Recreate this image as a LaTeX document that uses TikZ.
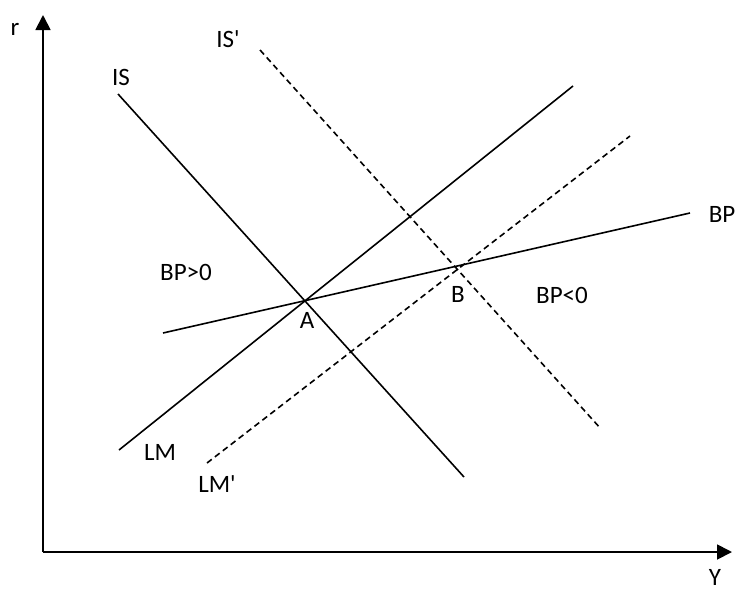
\documentclass[tikz,border=0pt]{standalone}
\usepackage{fontspec}
\setmainfont{Carlito}
\usetikzlibrary{arrows.meta}
\begin{document}
\begin{tikzpicture}[x=1pt,y=-1pt,
  curve/.style={line width=1.6pt,black},
  dcurve/.style={line width=1.6pt,black,dash pattern=on 6pt off 4pt},
  axis/.style={line width=1.8pt,black,-{Triangle[length=15pt,width=15pt]}},
  lbl/.style={inner sep=0pt,anchor=base,font=\fontsize{25}{30}\selectfont}]
\useasboundingbox (0,0) rectangle (738,592);
% axes
\coordinate (O) at (43,552);
\coordinate (Ytop) at (43,15);
\coordinate (Xend) at (732,552);
\draw[axis] (O) -- (Ytop);
\draw[axis] (O) -- (Xend);
% curve end points
\coordinate (IS1) at (118,94);
\coordinate (IS2) at (464,477);
\coordinate (ISp1) at (260,50);
\coordinate (ISp2) at (601,429);
\coordinate (LM1) at (119,450);
\coordinate (LM2) at (573,86);
\coordinate (LMp1) at (207,463);
\coordinate (LMp2) at (630,136);
\coordinate (BP1) at (163,333);
\coordinate (BP2) at (690,213);
\draw[curve] (IS1) -- (IS2);
\draw[dcurve] (ISp1) -- (ISp2);
\draw[curve] (LM1) -- (LM2);
\draw[dcurve] (LMp1) -- (LMp2);
\draw[curve] (BP1) -- (BP2);
% labels
\node[lbl] (r) at (15,35) {r};
\node[lbl] (Ylab) at (715,585) {Y};
\node[lbl] (ISl) at (121,85) {IS};
\node[lbl] (ISpl) at (228,47) {IS\textquotesingle};
\node[lbl] (LMl) at (160,460) {LM};
\node[lbl] (LMpl) at (217,492) {LM\textquotesingle};
\node[lbl] (BPl) at (722,222) {BP};
\node[lbl] (Al) at (307,328) {A};
\node[lbl] (Bl) at (458,302) {B};
\node[lbl] (BPpos) at (186,280) {BP>0};
\node[lbl] (BPneg) at (562,303) {BP<0};
\end{tikzpicture}
\end{document}
